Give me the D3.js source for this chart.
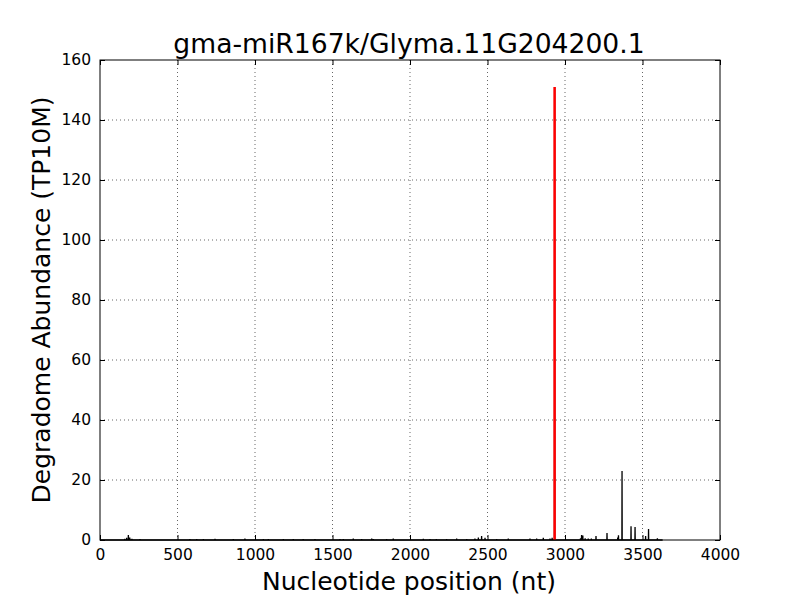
<!DOCTYPE html>
<html><head><meta charset="utf-8">
<script src="https://cdn.jsdelivr.net/npm/d3@7"></script>
<style>body{margin:0;background:#fff}svg{display:block}text{font-family:"DejaVu Sans",sans-serif}</style>
</head><body><svg id="c" width="800" height="600"></svg>
<script>
const title = "gma-miR167k/Glyma.11G204200.1";
const xLabel = "Nucleotide position (nt)";
const yLabel = "Degradome Abundance (TP10M)";
const xTicks = [0, 500, 1000, 1500, 2000, 2500, 3000, 3500, 4000];
const yTicks = [0, 20, 40, 60, 80, 100, 120, 140, 160];
const transcriptLength = 3630;
// degradome peaks (position, abundance)
const peakPos = [160, 172, 183, 192, 206, 258, 580, 624, 667, 742, 860, 935, 1054, 1086, 1183, 1247, 1311, 1387,
  1548, 1570, 1634, 1688, 1753, 1763, 1849, 1892, 2086, 2129, 2170, 2236, 2301, 2366, 2419, 2441, 2462, 2484,
  2559, 2634, 2774, 2817, 2860, 2903, 2917, 2933, 3100, 3107, 3115, 3130, 3150, 3170, 3200, 3271, 3340, 3345,
  3368, 3426, 3452, 3520, 3539, 3596];
const peakVal = [0.4, 0.7, 1.7, 0.8, 0.4, 0.3, 0.3, 0.3, 0.3, 0.4, 0.3, 0.5, 0.3, 0.3, 0.3, 0.3, 0.3, 0.3,
  0.3, 0.3, 0.5, 0.3, 0.5, 0.3, 0.3, 0.5, 0.4, 0.3, 0.3, 0.3, 0.5, 0.3, 0.5, 0.8, 1.3, 0.7,
  0.3, 0.5, 0.5, 0.5, 0.7, 0.5, 0.7, 151, 0.6, 1.7, 1.5, 0.6, 0.5, 0.5, 1.3, 2.3, 0.8, 1.6,
  23, 4.6, 4.3, 1.3, 3.7, 0.6];
const targetPos = [2933];
const targetVal = [151];

const svg = d3.select("#c");
const m = {l:100, r:720, t:60, b:540};
const x = d3.scaleLinear().domain([0, 4000]).range([m.l, m.r]);
const y = d3.scaleLinear().domain([0, 160]).range([m.b, m.t]);

// grid
const g = svg.append("g");
g.selectAll(".gx").data(xTicks.slice(1, -1)).enter().append("line")
  .attr("x1", d => x(d)).attr("x2", d => x(d)).attr("y1", m.t).attr("y2", m.b)
  .attr("stroke", "#000").attr("stroke-width", 0.6).attr("stroke-dasharray", "1,3");
g.selectAll(".gy").data(yTicks.slice(1, -1)).enter().append("line")
  .attr("y1", d => y(d)).attr("y2", d => y(d)).attr("x1", m.l).attr("x2", m.r)
  .attr("stroke", "#000").attr("stroke-width", 0.6).attr("stroke-dasharray", "1,3");

// data line
const pts = [[1, 0]];
peakPos.forEach((p, i) => { pts.push([p - 1, 0], [p, peakVal[i]], [p + 1, 0]); });
pts.push([transcriptLength, 0]);
svg.append("path").datum(pts)
  .attr("d", d3.line().x(d => x(d[0])).y(d => y(d[1])))
  .attr("fill", "none").attr("stroke", "#000").attr("stroke-width", 1.3);

// target site
svg.selectAll(".tgt").data(targetPos).enter().append("line")
  .attr("x1", d => x(d)).attr("x2", d => x(d))
  .attr("y1", y(0)).attr("y2", (d, i) => y(targetVal[i]))
  .attr("stroke", "#ff0000").attr("stroke-width", 2.5);

// axes (ticks inward, all four sides)
const tl = 5;
const fmt = d3.format("d");
svg.append("g").attr("transform", `translate(0,${m.b})`)
  .call(d3.axisBottom(x).tickValues(xTicks).tickFormat(fmt).tickSizeInner(-tl).tickSizeOuter(0).tickPadding(9))
  .call(a => a.select(".domain").remove());
svg.append("g").attr("transform", `translate(0,${m.t})`)
  .call(d3.axisTop(x).tickValues(xTicks).tickSizeInner(-tl).tickSizeOuter(0).tickFormat(""))
  .call(a => a.select(".domain").remove());
svg.append("g").attr("transform", `translate(${m.l},0)`)
  .call(d3.axisLeft(y).tickValues(yTicks).tickFormat(fmt).tickSizeInner(-tl).tickSizeOuter(0).tickPadding(9))
  .call(a => a.select(".domain").remove());
svg.append("g").attr("transform", `translate(${m.r},0)`)
  .call(d3.axisRight(y).tickValues(yTicks).tickSizeInner(-tl).tickSizeOuter(0).tickFormat(""))
  .call(a => a.select(".domain").remove());
svg.selectAll(".tick text").attr("font-size", 15.5).attr("font-family", "DejaVu Sans").attr("fill", "#000");
svg.selectAll(".tick line").attr("stroke", "#000");

svg.append("rect").attr("x", m.l).attr("y", m.t).attr("width", m.r - m.l).attr("height", m.b - m.t)
  .attr("fill", "none").attr("stroke", "#000").attr("stroke-width", 1);

svg.append("text").attr("x", 409).attr("y", 53).attr("text-anchor", "middle")
  .attr("font-size", 26.6).text(title);
svg.append("text").attr("x", 409).attr("y", 590).attr("text-anchor", "middle")
  .attr("font-size", 25).text(xLabel);
svg.append("text").attr("transform", `translate(50,${(m.t + m.b) / 2}) rotate(-90)`).attr("text-anchor", "middle")
  .attr("font-size", 25).text(yLabel);
</script></body></html>
